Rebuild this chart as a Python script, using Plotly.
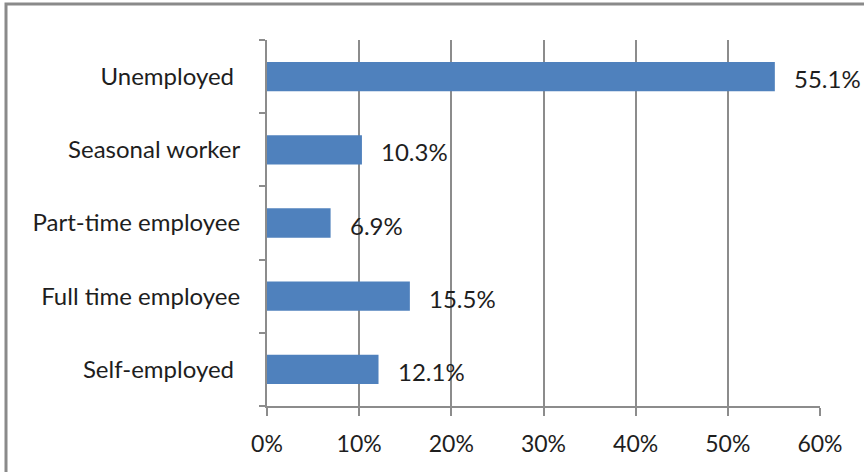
import plotly.graph_objects as go

categories = ["Self-employed\u00a0", "Full time employee", "Part-time employee", "Seasonal worker", "Unemployed\u00a0"]
values = [12.1, 15.5, 6.9, 10.3, 55.1]
x_ticks = [0, 10, 20, 30, 40, 50, 60]
x_tick_labels = ["0%", "10%", "20%", "30%", "40%", "50%", "60%"]

W, H = 864, 472
L, R, T, B = 267, 44, 40, 66
FONT = "Lato, Open Sans, sans-serif"
GRID = "#8c8c8c"
TXT = "#1e1e1e"

fig = go.Figure()
fig.add_trace(go.Bar(
    y=categories, x=values, orientation="h",
    marker=dict(color="#4F81BD", line=dict(width=0)),
    hoverinfo="skip",
))
for c, v in zip(categories, values):
    fig.add_annotation(x=v, y=c, text=f"{v:.1f}%", showarrow=False,
                       xanchor="left", xshift=17, yshift=-2,
                       font=dict(family=FONT, size=24, color=TXT))

pw = W - L - R
ph = H - T - B
fig.add_shape(type="rect", xref="paper", yref="paper",
              x0=(6 - L) / pw, x1=(W + 10 - L) / pw,
              y0=-(H + 10 - T - ph) / ph, y1=1 + (T - 4) / ph,
              line=dict(color="#8a8a8a", width=3), fillcolor="rgba(0,0,0,0)", layer="below")

fig.update_layout(
    width=W, height=H,
    margin=dict(l=L, r=R, t=T, b=B),
    paper_bgcolor="white", plot_bgcolor="white",
    bargap=0.6, showlegend=False,
    font=dict(family=FONT, size=24, color=TXT),
    xaxis=dict(range=[0, 60], tickvals=x_ticks, ticktext=x_tick_labels,
               showgrid=True, gridcolor=GRID, gridwidth=2,
               showline=True, linecolor=GRID, linewidth=2,
               ticks="outside", ticklen=8, tickwidth=2, tickcolor=GRID,
               ticklabelstandoff=8, zeroline=False, fixedrange=True,
               tickfont=dict(size=23)),
    yaxis=dict(categoryorder="array", categoryarray=categories,
               showline=True, linecolor=GRID, linewidth=2,
               ticks="outside", ticklen=6, tickwidth=2, tickcolor=GRID,
               tickson="boundaries", ticklabelstandoff=20,
               showgrid=False, fixedrange=True),
)
fig.write_html("out.html", config={"displayModeBar": False, "staticPlot": True},
               post_script="document.body.style.margin='0px';document.body.style.overflow='hidden';")
